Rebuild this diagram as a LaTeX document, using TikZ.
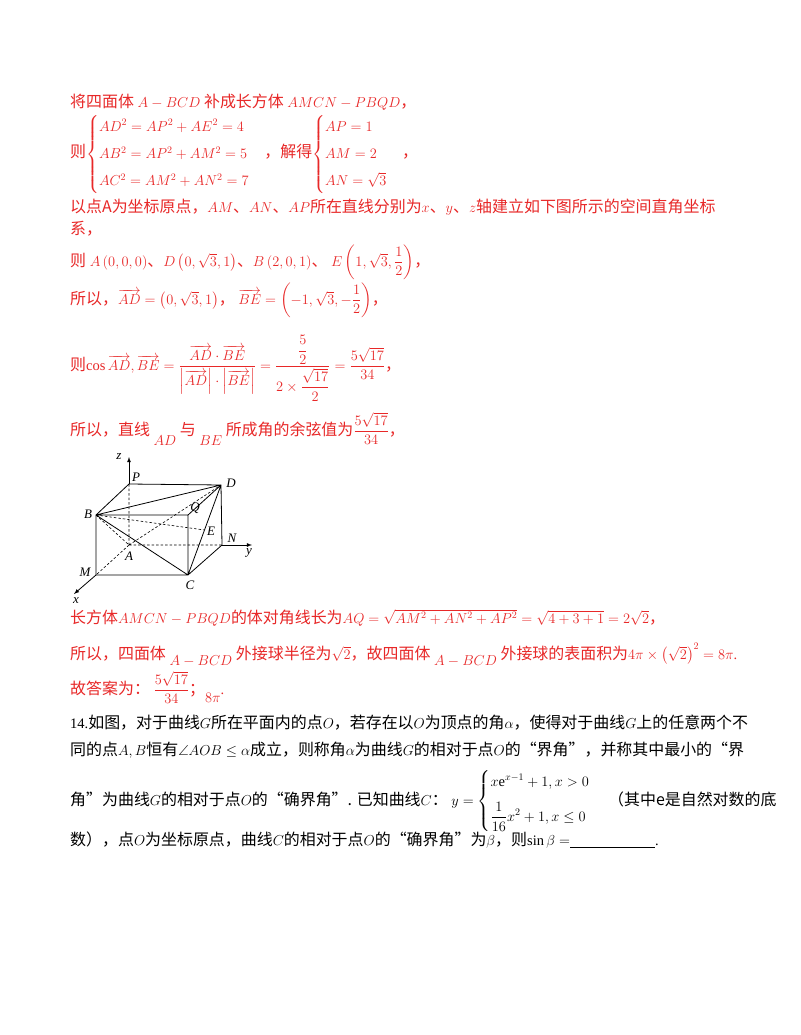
\documentclass[tikz,border=0pt]{standalone}
\usepackage{amsmath,amssymb}
\usepackage{fontspec}
\usetikzlibrary{calc}
\setmainfont{Liberation Serif}
\newfontfamily\cjk[Scale=1.1]{Noto Sans CJK SC}
\newcommand{\zh}[1]{{\cjk #1}}
\definecolor{ansred}{RGB}{232,40,40}
\newcommand{\va}[1]{\overrightarrow{#1}}
\begin{document}
\begin{tikzpicture}[x=1pt,y=-1pt,
  line/.style={anchor=base west,inner sep=0pt,font=\fontsize{14.5}{17}\selectfont},
  red/.style={text=ansred},
  edge/.style={line width=0.8pt},
  hid/.style={line width=0.6pt,dashed,dash pattern=on 2.5pt off 2pt},
  lbl/.style={inner sep=1pt,font=\fontsize{13}{15}\selectfont\itshape}]
\useasboundingbox[fill=white] (0,0) rectangle (800,1035);
\node[line,red] (l1) at (70,108) {\zh{将四面体} $A-BCD$ \zh{补成长方体} $AMCN-PBQD$\zh{，}};
\node[line,red] (l2) at (70,158) {\zh{则}$\begin{cases}AD^2=AP^2+AE^2=4\\[7pt] AB^2=AP^2+AM^2=5\\[7pt] AC^2=AM^2+AN^2=7\end{cases}$\zh{，解得}$\begin{cases}AP=1\\[7pt] AM=2\\[7pt] AN=\sqrt3\end{cases}$\zh{，}};
\node[line,red] (l3) at (70,212) {\zh{以点A为坐标原点，}$AM$\zh{、}$AN$\zh{、}$AP$\zh{所在直线分别为}$x$\zh{、}$y$\zh{、}$z$\zh{轴建立如下图所示的空间直角坐标}};
\node[line,red] (l3b) at (70,234) {\zh{系，}};
\node[line,red] (l4) at (70,266) {\zh{则}\ $A\left(0,0,0\right)$\zh{、}$D\left(0,\sqrt3,1\right)$\zh{、}$B\left(2,0,1\right)$\zh{、}\ $E\left(1,\sqrt3,\dfrac12\right)$\zh{，}};
\node[line,red] (l5) at (70,304) {\zh{所以，}$\va{AD}=\left(0,\sqrt3,1\right)$\zh{，}\ $\va{BE}=\left(-1,\sqrt3,-\dfrac12\right)$\zh{，}};
\node[line,red] (l6) at (70,370) {\zh{则}$\cos\va{AD},\va{BE}=\dfrac{\va{AD}\cdot\va{BE}}{\left|\va{AD}\right|\cdot\left|\va{BE}\right|}=\dfrac{\dfrac52}{2\times\dfrac{\sqrt{17}}{2}}=\dfrac{5\sqrt{17}}{34}$\zh{，}};
\node[line,red] (l7) at (70,435) {\zh{所以，直线}\ \raisebox{-10pt}{$AD$}\ \zh{与}\ \raisebox{-10pt}{$BE$}\ \zh{所成角的余弦值为}$\dfrac{5\sqrt{17}}{34}$\zh{，}};
% figure
\coordinate (A) at (129,545); \coordinate (M) at (96,575); \coordinate (C) at (188,575); \coordinate (N) at (222,545);
\coordinate (P) at (129,484); \coordinate (B) at (96,515); \coordinate (Q) at (188,515); \coordinate (D) at (221,485);
\coordinate (E) at ($(C)!0.5!(D)$);
\coordinate (X) at (74,594); \coordinate (Y) at (252,545); \coordinate (Z) at (129,457);
\draw[edge] (P)--(D)--(N)--(C)--(M)--(B)--(P) (B)--(Q)--(D) (Q)--(C) (B)--(D) (B)--(C) (C)--(D);
\draw[hid] (A)--(P) (A)--(M) (A)--(N) (A)--(D) (B)--(A) (B)--(E);
\draw[edge,-latex] (M)--(X); \draw[edge,-latex] (N)--(Y); \draw[edge,-latex] (P)--(Z);
\node[lbl] (zl) at (119,457) {z}; \node[lbl] (xl) at (76,601) {x}; \node[lbl] (yl) at (249,553) {y};
\node[lbl] (Pl) at (136,477) {P}; \node[lbl] (Dl) at (231,483) {D}; \node[lbl] (Bl) at (88,514) {B};
\node[lbl] (Ql) at (195,508) {Q}; \node[lbl] (El) at (211,531) {E}; \node[lbl] (Nl) at (232,538) {N};
\node[lbl] (Al) at (129,556) {A}; \node[lbl] (Ml) at (85,572) {M}; \node[lbl] (Cl) at (190,585) {C};
\node[line,red] (l8) at (70,623) {\zh{长方体}$AMCN-PBQD$\zh{的体对角线长为}$AQ=\sqrt{AM^2+AN^2+AP^2}=\sqrt{4+3+1}=2\sqrt2$\zh{，}};
\node[line,red] (l9) at (70,659) {\zh{所以，四面体}\ \raisebox{-6pt}{$A-BCD$}\ \zh{外接球半径为}$\sqrt2$\zh{，故四面体}\ \raisebox{-6pt}{$A-BCD$}\ \zh{外接球的表面积为}$4\pi\times\left(\sqrt2\right)^2=8\pi$.};
\node[line,red] (l10) at (70,694) {\zh{故答案为：}\ $\dfrac{5\sqrt{17}}{34}$\zh{；}\raisebox{-8pt}{$8\pi$}.};
\node[line] (l11) at (70,728) {14.\zh{如图，对于曲线}$G$\zh{所在平面内的点}$O$\zh{，若存在以}$O$\zh{为顶点的角}$\alpha$\zh{，使得对于曲线}$G$\zh{上的任意两个不}};
\node[line] (l12) at (70,755) {\zh{同的点}$A,B$\zh{恒有}$\angle AOB\le\alpha$\zh{成立，则称角}$\alpha$\zh{为曲线}$G$\zh{的相对于点}$O$\zh{的“界角”，并称其中最小的“界}};
\node[line] (l13) at (70,805) {\zh{角”为曲线}$G$\zh{的相对于点}$O$\zh{的“确界角”. 已知曲线}$C$\zh{：}\ $y=\begin{cases}x\mathrm{e}^{x-1}+1,x>0\\[10pt] \dfrac1{16}x^2+1,x\le0\end{cases}$\ \zh{（其中e是自然对数的底}};
\node[line] (l14) at (70,845) {\zh{数），点}$O$\zh{为坐标原点，曲线}$C$\zh{的相对于点}$O$\zh{的“确界角”为}$\beta$\zh{，则}$\sin\beta=$\underline{\hspace{85pt}}.};
\end{tikzpicture}
\end{document}
